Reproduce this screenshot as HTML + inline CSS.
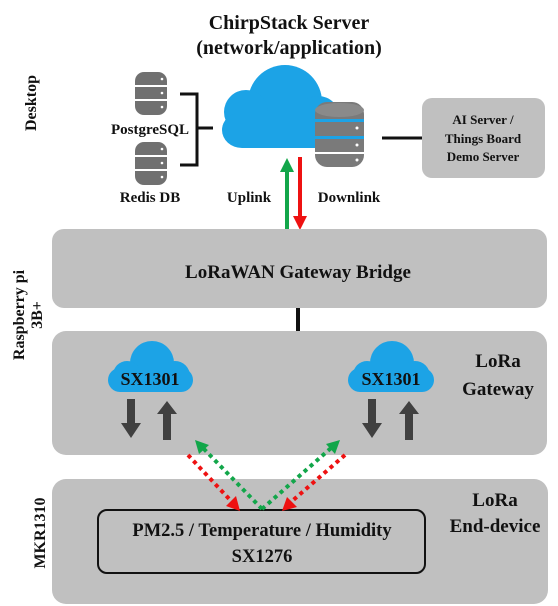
<!DOCTYPE html>
<html><head><style>html,body{margin:0;padding:0;background:#fff}svg{display:block}text{font-family:"Liberation Serif",serif;font-weight:bold;fill:#111}</style></head>
<body>
<svg width="558" height="606" viewBox="0 0 558 606" xmlns="http://www.w3.org/2000/svg">
<defs>
<g id="db">
<rect x="0" y="0" width="32" height="43" rx="9" fill="#707070"/>
<rect x="0" y="13" width="32" height="2" fill="#fff"/><rect x="0" y="27" width="32" height="2" fill="#fff"/>
<circle cx="27" cy="7" r="1.3" fill="#fff"/><circle cx="27" cy="21" r="1.3" fill="#fff"/><circle cx="27" cy="35" r="1.3" fill="#fff"/>
</g>
</defs>
<text transform="translate(36,103) rotate(-90)" font-size="16" text-anchor="middle">Desktop</text>
<text transform="translate(24,315) rotate(-90)" font-size="16" text-anchor="middle">Raspberry pi</text>
<text transform="translate(42,315) rotate(-90)" font-size="16" text-anchor="middle">3B+</text>
<text transform="translate(45,533) rotate(-90)" font-size="16" text-anchor="middle">MKR1310</text>
<text x="289" y="29" font-size="20" text-anchor="middle">ChirpStack Server</text>
<text x="289" y="54" font-size="20" text-anchor="middle">(network/application)</text>
<use href="#db" transform="translate(135,72)"/>
<use href="#db" transform="translate(135,142)"/>
<text x="150" y="134" font-size="15" text-anchor="middle">PostgreSQL</text>
<text x="150" y="202" font-size="15" text-anchor="middle">Redis DB</text>
<path d="M180,94 H197 V165 H180 M197,128 H213" fill="none" stroke="#111" stroke-width="3"/>
<g fill="#1ca3e6">
<circle cx="285" cy="102" r="37"/>
<circle cx="246" cy="112" r="22"/>
<circle cx="318" cy="118" r="22"/>
<rect x="222" y="112" width="115" height="36" rx="20"/>
</g>
<g>
<rect x="315" y="102" width="49" height="65" rx="12" fill="#7a7a7a"/>
<ellipse cx="339.5" cy="110" rx="24.5" ry="7" fill="#8a8a8a"/>
<rect x="315" y="119" width="49" height="3" fill="#1ca3e6"/>
<rect x="315" y="136" width="49" height="3" fill="#1ca3e6"/>
<rect x="315" y="152" width="49" height="2" fill="#fff"/>
<circle cx="357" cy="128" r="1.5" fill="#fff"/><circle cx="357" cy="145" r="1.5" fill="#fff"/><circle cx="357" cy="160" r="1.5" fill="#fff"/>
</g>
<line x1="382" y1="138" x2="422" y2="138" stroke="#111" stroke-width="3"/>
<rect x="422" y="98" width="123" height="80" rx="10" fill="#c0c0c0"/>
<text x="483" y="124" font-size="13" text-anchor="middle">AI Server /</text>
<text x="483" y="143" font-size="13" text-anchor="middle">Things Board</text>
<text x="483" y="161" font-size="13" text-anchor="middle">Demo Server</text>
<text x="249" y="202" font-size="15" text-anchor="middle">Uplink</text>
<text x="349" y="202" font-size="15" text-anchor="middle">Downlink</text>
<line x1="287" y1="229" x2="287" y2="170" stroke="#12a64a" stroke-width="4"/>
<path d="M280,172 L287,158 L294,172z" fill="#12a64a"/>
<line x1="300" y1="157" x2="300" y2="218" stroke="#ee1111" stroke-width="4"/>
<path d="M293,216 L300,230 L307,216z" fill="#ee1111"/>
<rect x="52" y="229" width="495" height="79" rx="12" fill="#c0c0c0"/>
<text x="298" y="278" font-size="19" text-anchor="middle">LoRaWAN Gateway Bridge</text>
<line x1="298" y1="308" x2="298" y2="331" stroke="#111" stroke-width="4"/>
<rect x="52" y="331" width="495" height="124" rx="14" fill="#c0c0c0"/>
<g fill="#1ca3e6">
<circle cx="152" cy="363" r="22"/><circle cx="127" cy="375" r="14"/><circle cx="175" cy="376" r="15"/>
<rect x="108" y="368" width="85" height="24" rx="12"/>
<circle cx="392" cy="363" r="22"/><circle cx="367" cy="375" r="14"/><circle cx="415" cy="376" r="15"/>
<rect x="348" y="368" width="86" height="24" rx="12"/>
</g>
<text x="150" y="385" font-size="18" text-anchor="middle" fill="#0d2a4a">SX1301</text>
<text x="391" y="385" font-size="18" text-anchor="middle" fill="#0d2a4a">SX1301</text>
<g fill="#404040">
<path d="M127,399 h8 v24 h6 l-10,15 l-10,-15 h6z"/>
<path d="M163,440 h8 v-26 h6 l-10,-13 l-10,13 h6z"/>
<path d="M368,399 h8 v24 h6 l-10,15 l-10,-15 h6z"/>
<path d="M405,440 h8 v-26 h6 l-10,-13 l-10,13 h6z"/>
</g>
<text x="498" y="367" font-size="19" text-anchor="middle">LoRa</text>
<text x="498" y="395" font-size="19" text-anchor="middle">Gateway</text>
<rect x="52" y="479" width="496" height="125" rx="14" fill="#c0c0c0"/>
<rect x="98" y="510" width="327" height="63" rx="9" fill="none" stroke="#111" stroke-width="2"/>
<text x="262" y="536" font-size="18.5" text-anchor="middle">PM2.5 / Temperature / Humidity</text>
<text x="262" y="562" font-size="18.5" text-anchor="middle">SX1276</text>
<text x="495" y="506" font-size="19" text-anchor="middle">LoRa</text>
<text x="495" y="532" font-size="19" text-anchor="middle">End-device</text>
<g stroke-width="4" stroke-dasharray="4,4" fill="none">
<line x1="188" y1="455" x2="232" y2="502" stroke="#ee1111"/>
<line x1="262" y1="509" x2="203" y2="448" stroke="#12a64a"/>
<line x1="262" y1="509" x2="331" y2="448" stroke="#12a64a"/>
<line x1="345" y1="455" x2="291" y2="502" stroke="#ee1111"/>
</g>
<path d="M240,511 L226,506 L236,496z" fill="#ee1111"/>
<path d="M195,440 L209,445 L199,454z" fill="#12a64a"/>
<path d="M340,440 L326,444 L335,454z" fill="#12a64a"/>
<path d="M282,511 L287,497 L297,507z" fill="#ee1111"/>
</svg>
</body></html>
